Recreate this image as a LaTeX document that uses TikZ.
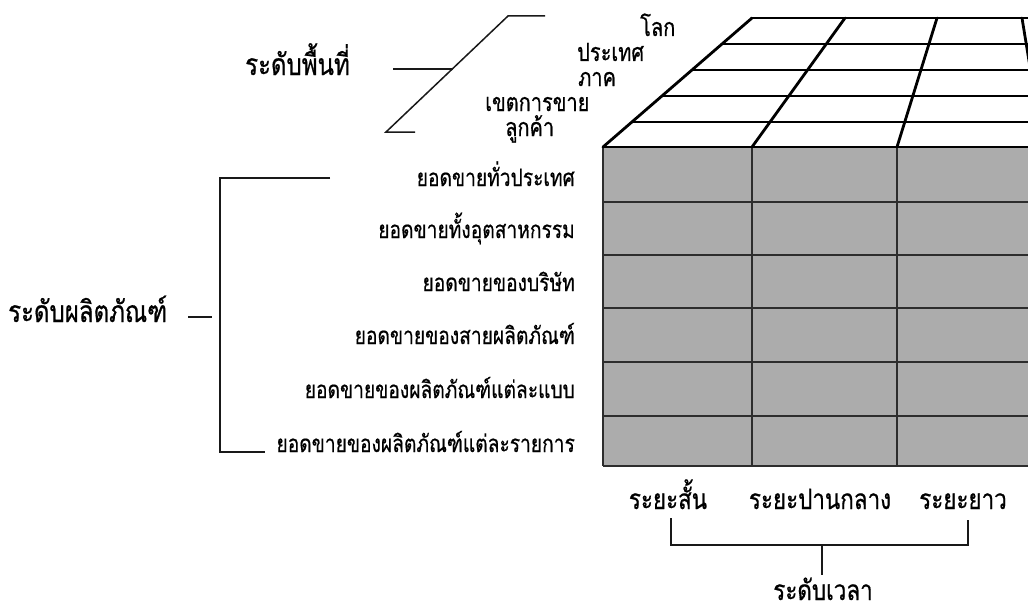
\documentclass[tikz,border=0pt]{standalone}
\usepackage{fontspec}
\newfontfamily\thai[Script=Thai,FakeStretch=0.8,FakeBold=0.6]{Loma}
\definecolor{facegray}{RGB}{172,172,172}
\definecolor{gridgray}{RGB}{45,45,45}
\begin{document}
\begin{tikzpicture}[x=1pt,y=-1pt,
  rowlab/.style={font=\thai\fontsize{24}{24}\selectfont, inner sep=0pt, anchor=base east},
  toplab/.style={font=\thai\fontsize{25}{25}\selectfont, inner sep=0pt, anchor=base west},
  timelab/.style={font=\thai\fontsize{28}{28}\selectfont, inner sep=0pt, anchor=base},
  headlab/.style={font=\thai\fontsize{30}{30}\selectfont, inner sep=0pt, anchor=base west},
  leader/.style={line width=1.5pt, black!90},
  topgrid/.style={line width=2.8pt, line cap=round},
  facegrid/.style={line width=1.7pt, gridgray}]
\useasboundingbox (0,0) rectangle (1028,610);
\clip (0,0) rectangle (1028,610);
\fill[white] (0,0) rectangle (1028,610);
% front face
\fill[facegray] (603,147) rectangle (1060,466);
\foreach \y in {202,255,308,362,416,466} \draw[facegrid] (603,\y) -- (1060,\y);
\foreach \x in {603,752,897,1043} \draw[facegrid] (\x,147) -- (\x,466);
% top face
\foreach \y/\xl in {18/752,44/722,70/692,96/662,122/632} {
  \draw[topgrid] (\xl,\y) -- (1060,\y);
}
\draw[topgrid] (603,147) -- (1060,147);
\draw[topgrid] (603,147) -- (752,18);
\draw[topgrid] (752,147) -- (845,18);
\draw[topgrid] (897,147) -- (937,18);
\draw[topgrid] (1043,147) -- (1022,18);
% area level
\node[headlab] (area) at (245,75) {ระดับพื้นที่};
\node[toplab] (world) at (640,36) {โลก};
\node[toplab] (country) at (577,61) {ประเทศ};
\node[toplab] (region) at (578,86) {ภาค};
\node[toplab] (terr) at (485,111) {เขตการขาย};
\node[toplab] (cust) at (505,136) {ลูกค้า};
\coordinate (dtop) at (508,16);
\coordinate (dbot) at (386,132);
\coordinate (dtopend) at (545,16);
\coordinate (dbotend) at (415,132);
\coordinate (amid) at (453,69);
\coordinate (astart) at (393,69);
\draw[leader] (dtopend) -- (dtop) -- (dbot) -- (dbotend);
\draw[leader] (astart) -- (amid);
% product level
\node[headlab] (prod) at (8,322) {ระดับผลิตภัณฑ์};
\node[rowlab] (r1) at (575,186) {ยอดขายทั่วประเทศ};
\node[rowlab] (r2) at (575,238) {ยอดขายทั้งอุตสาหกรรม};
\node[rowlab] (r3) at (575,291) {ยอดขายของบริษัท};
\node[rowlab] (r4) at (575,344) {ยอดขายของสายผลิตภัณฑ์};
\node[rowlab] (r5) at (575,398) {ยอดขายของผลิตภัณฑ์แต่ละแบบ};
\node[rowlab] (r6) at (575,452) {ยอดขายของผลิตภัณฑ์แต่ละรายการ};
\coordinate (pd1) at (188,317);
\coordinate (pd2) at (212,317);
\coordinate (pbt) at (220,178);
\coordinate (pbb) at (220,452);
\coordinate (pbte) at (330,178);
\coordinate (pbbe) at (265,452);
\draw[leader] (pd1) -- (pd2);
\draw[leader] (pbte) -- (pbt) -- (pbb) -- (pbbe);
% time level
\node[timelab] (short) at (668,509) {ระยะสั้น};
\node[timelab] (mid) at (820,509) {ระยะปานกลาง};
\node[timelab] (long) at (963,509) {ระยะยาว};
\node[timelab, text depth=0pt] (time) at (823,600) {ระดับเวลา};
\coordinate (tl) at (671,518);
\coordinate (tr) at (968,520);
\coordinate (tlb) at (671,545);
\coordinate (trb) at (968,545);
\coordinate (tc) at (822,545);
\coordinate (tcb) at (822,575);
\draw[leader] (tl) -- (tlb) -- (trb) -- (tr);
\draw[leader] (tc) -- (tcb);
\end{tikzpicture}
\end{document}
